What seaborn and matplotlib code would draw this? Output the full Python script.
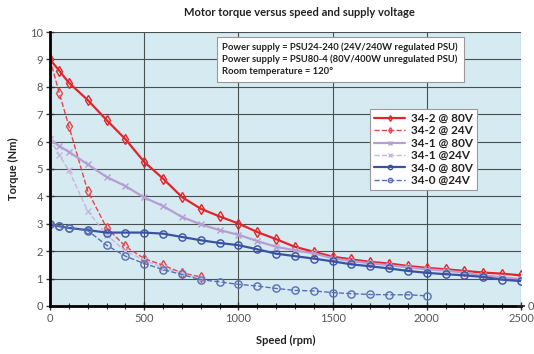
import matplotlib
matplotlib.use("Agg")
import matplotlib.pyplot as plt
import seaborn as sns
import pandas as pd
from matplotlib.ticker import MultipleLocator

sns.set_theme(style="white")
plt.rcParams['font.family'] = ['Lato', 'DejaVu Sans']

# ---- data ----
speed_full = [0, 50, 100, 200, 300, 400, 500, 600, 700, 800, 900, 1000, 1100, 1200,
              1300, 1400, 1500, 1600, 1700, 1800, 1900, 2000, 2100, 2200, 2300, 2400, 2500]
t_342_80 = [9.0, 8.58, 8.15, 7.52, 6.79, 6.09, 5.26, 4.65, 3.98, 3.55, 3.27, 3.01, 2.70, 2.44,
            2.16, 1.98, 1.80, 1.70, 1.61, 1.55, 1.46, 1.39, 1.34, 1.28, 1.22, 1.18, 1.12]
t_341_80 = [6.1, 5.83, 5.63, 5.17, 4.71, 4.38, 3.96, 3.65, 3.25, 2.98, 2.77, 2.60, 2.37, 2.16,
            2.03, 1.92, 1.74, 1.64, 1.56, 1.49, 1.41, 1.34, 1.29, 1.22, 1.12, 1.05, 0.98]
t_340_80 = [2.98, 2.91, 2.85, 2.77, 2.68, 2.68, 2.68, 2.64, 2.52, 2.40, 2.30, 2.22, 2.07, 1.91,
            1.82, 1.73, 1.63, 1.52, 1.45, 1.37, 1.28, 1.21, 1.16, 1.12, 1.06, 0.96, 0.91]

speed_24a = [0, 50, 100, 200, 300, 400, 500, 600, 700, 800]
t_342_24 = [9.0, 7.76, 6.57, 4.2, 2.86, 2.18, 1.73, 1.49, 1.21, 1.06]
t_341_24 = [6.1, 5.5, 4.95, 3.47, 2.6, 2.0, 1.68, 1.4, 1.2, 1.0]

speed_24b = [0, 50, 100, 200, 300, 400, 500, 600, 700, 800, 900, 1000, 1100, 1200,
             1300, 1400, 1500, 1600, 1700, 1800, 1900, 2000]
t_340_24 = [3.0, 2.91, 2.85, 2.75, 2.22, 1.82, 1.55, 1.33, 1.15, 0.96, 0.88, 0.79, 0.73, 0.64,
            0.57, 0.55, 0.49, 0.45, 0.42, 0.41, 0.41, 0.37]

labels = ["34-2 @ 80V", "34-2 @ 24V", "34-1 @ 80V", "34-1 @24V", "34-0 @ 80V", "34-0 @24V"]
title = "Motor torque versus speed and supply voltage"
note_lines = ["Power supply = PSU24-240 (24V/240W regulated PSU)",
              "Power supply = PSU80-4 (80V/400W unregulated PSU)",
              "Room temperature = 120\u00b0"]

fig = plt.figure(figsize=(5.34, 3.54), dpi=100)
ax = fig.add_axes([0.0936, 0.1356, 0.882, 0.774])
ax.set_facecolor("#d5ebf1")

series = [
    (speed_full, t_342_80, labels[0], "#e3242b", "-", "d", 1.6, 4.8),
    (speed_24a, t_342_24, labels[1], "#e2474c", "--", "d", 1.0, 4.8),
    (speed_full, t_341_80, labels[2], "#b79ed2", "-", "x", 1.6, 4.8),
    (speed_24a, t_341_24, labels[3], "#c7b5dd", "--", "x", 1.0, 4.8),
    (speed_full, t_340_80, labels[4], "#3b52a3", "-", "o", 1.6, 5.2),
    (speed_24b, t_340_24, labels[5], "#5a6fb2", "--", "o", 1.0, 5.2),
]
for xs, ys, lab, col, ls, mk, lw, ms in series:
    df = pd.DataFrame({"speed": xs, "torque": ys})
    sns.lineplot(data=df, x="speed", y="torque", ax=ax, color=col, linestyle=ls,
                 linewidth=lw, marker=mk, markersize=ms, markerfacecolor="none",
                 markeredgecolor=col, markeredgewidth=1.0, label=lab)

ax.set_xlim(0, 2500)
ax.set_ylim(0, 10)
ax.xaxis.set_major_locator(MultipleLocator(500))
ax.xaxis.set_minor_locator(MultipleLocator(100))
ax.yaxis.set_major_locator(MultipleLocator(1))
ax.grid(True, which="major", color="#4a4f50", linewidth=0.8)
ax.set_axisbelow(True)
for s in ["top", "right"]:
    ax.spines[s].set_visible(False)
ax.spines["left"].set_color("black")
ax.spines["left"].set_linewidth(2)
ax.spines["bottom"].set_color("black")
ax.spines["bottom"].set_linewidth(2)
ax.tick_params(axis="both", which="major", direction="inout", length=6, width=1,
               color="#333333", labelsize=8, labelcolor="#555555", pad=2,
               bottom=True, left=True)
ax.tick_params(axis="x", which="minor", direction="inout", length=4, width=0.8,
               color="#333333", bottom=True)

ax2 = ax.twinx()
ax2.set_ylim(0, 10)
ax2.set_yticks([0])
ax2.set_yticklabels(["0"])
ax2.tick_params(axis="y", direction="inout", length=6, labelsize=8,
                labelcolor="#555555", pad=2)
for s in ["top", "left", "bottom", "right"]:
    ax2.spines[s].set_visible(False)
ax2.grid(False)

ax.set_xlabel("Speed (rpm)", fontsize=8, fontweight="bold", color="#222222", labelpad=8)
ax.set_ylabel("Torque (Nm)", fontsize=8, fontweight="bold", color="#222222", labelpad=8)
fig.text(0.56, 0.964, title, ha="center", va="center", fontsize=8,
         fontweight="bold", color="#222222")

ax.text(0.366, 0.962, "\n".join(note_lines), transform=ax.transAxes, ha="left", va="top",
        fontsize=6.8, fontweight="bold", color="#222222", linespacing=1.4,
        bbox=dict(boxstyle="square,pad=0.6", facecolor="white", edgecolor="#999999",
                  linewidth=0.8))

leg = ax.legend(loc="upper left", bbox_to_anchor=(0.68, 0.72), frameon=True,
                fancybox=False, edgecolor="#999999", facecolor="white", framealpha=1,
                fontsize=8.5, handlelength=2.6, borderpad=0.35, labelspacing=0.12,
                handletextpad=0.5, borderaxespad=0, markerscale=0.6)
leg.get_frame().set_linewidth(0.8)
for t in leg.get_texts():
    t.set_fontweight("bold")
    t.set_color("#222222")

fig.savefig("out.png", dpi=100)
